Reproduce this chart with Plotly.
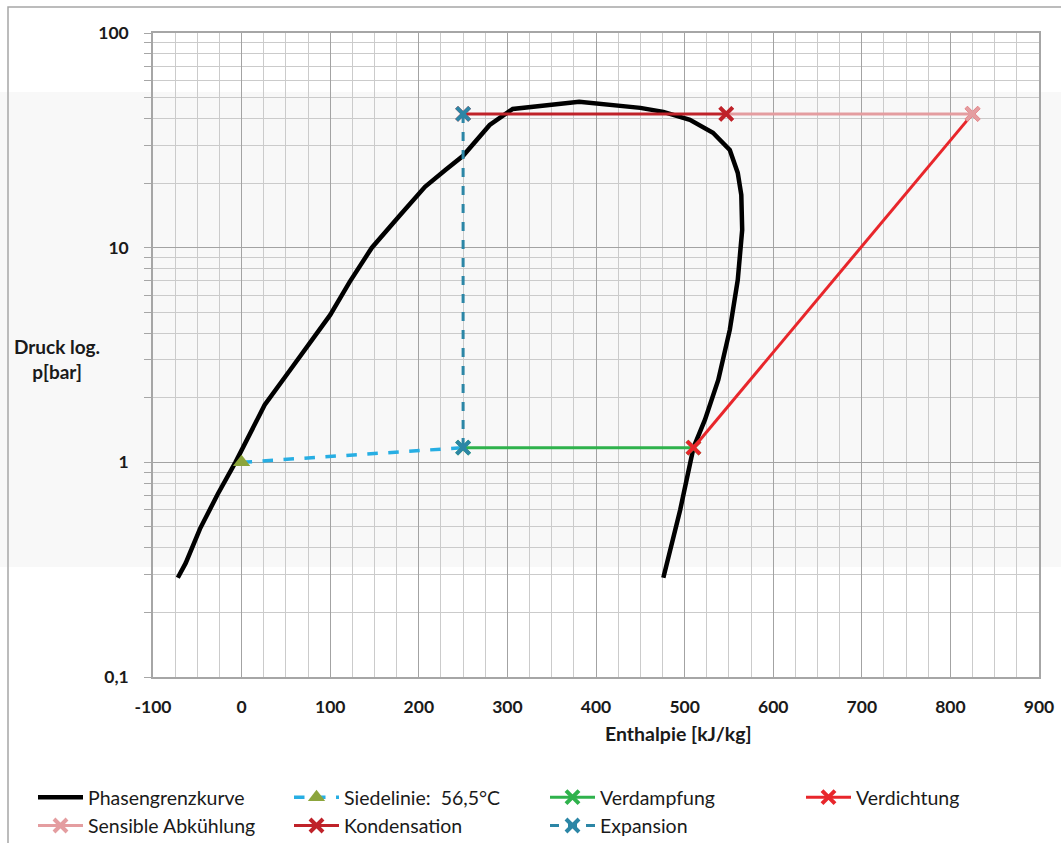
import plotly.graph_objects as go

# ---------------- data ----------------
phase_h = [-72, -63, -47, -27, -7, 10, 26, 55, 100, 122, 147, 179, 207, 230, 250, 280, 306,
           381, 450, 476, 506, 532, 551, 560, 564, 565, 560, 551, 538, 523, 510, 495, 484, 476]
phase_p = [0.29, 0.34, 0.49, 0.71, 1.0, 1.39, 1.85, 2.7, 4.86, 6.93, 10, 14.2, 19.2, 23, 26.8, 37.3, 44.3,
           47.8, 44.8, 42.9, 39.4, 34.3, 28.5, 22.3, 17.6, 12.1, 7.08, 4.14, 2.42, 1.58, 1.17, 0.6, 0.39, 0.29]

siede_h = [0, 250]
siede_p = [1.0, 1.17]

verdampf_h = [250, 510]
verdampf_p = [1.17, 1.17]

verdicht_h = [510, 825]
verdicht_p = [1.17, 42]

sensibel_h = [825, 547]
sensibel_p = [42, 42]

kondens_h = [547, 250]
kondens_p = [42, 42]

expans_h = [250, 250]
expans_p = [42, 1.17]

x_ticks = [-100, 0, 100, 200, 300, 400, 500, 600, 700, 800, 900]
x_ticktext = ["-100", "0", "100", "200", "300", "400", "500", "600", "700", "800", "900"]
y_ticks = [0.1, 1, 10, 100]
y_ticktext = ["0,1", "1", "10", "100"]
y_minor = [k * 10 ** d for d in (-1, 0, 1) for k in range(2, 10)]

FONT = "Lato"
TXT = "#1a1a1a"

fig = go.Figure()

def xmark(color):
    return dict(symbol="x-thin", size=13, color=color, line=dict(color=color, width=4))

fig.add_trace(go.Scatter(x=phase_h, y=phase_p, mode="lines", name="Phasengrenzkurve",
                         line=dict(color="#000000", width=4.5)))
fig.add_trace(go.Scatter(x=siede_h, y=siede_p, mode="lines+markers", name="Siedelinie:  56,5°C",
                         line=dict(color="#27aee3", width=3.5, dash="dash"),
                         marker=dict(symbol=["triangle-up", "line-ns"], size=15, color="#8ca53c",
                                     line=dict(width=0))))
fig.add_trace(go.Scatter(x=verdampf_h, y=verdampf_p, mode="lines+markers", name="Verdampfung",
                         line=dict(color="#2fb24c", width=3), marker=xmark("#2fb24c")))
fig.add_trace(go.Scatter(x=verdicht_h, y=verdicht_p, mode="lines+markers", name="Verdichtung",
                         line=dict(color="#e8262b", width=3), marker=xmark("#e8262b")))
fig.add_trace(go.Scatter(x=sensibel_h, y=sensibel_p, mode="lines+markers", name="Sensible Abkühlung",
                         line=dict(color="#e49da0", width=3), marker=xmark("#e49da0")))
fig.add_trace(go.Scatter(x=kondens_h, y=kondens_p, mode="lines+markers", name="Kondensation",
                         line=dict(color="#bf2229", width=3), marker=xmark("#bf2229")))
fig.add_trace(go.Scatter(x=expans_h, y=expans_p, mode="lines+markers", name="Expansion",
                         line=dict(color="#2c86a6", width=3, dash="dash"), marker=xmark("#2c86a6")))

L, R, T, B = 153, 1039, 33, 677
W, H = 1061, 843

def px(xp):
    return (xp - L) / (R - L)

def py(yp):
    return (B - yp) / (B - T)

fig.update_layout(
    width=W, height=H,
    margin=dict(l=L, r=W - R, t=T, b=H - B, autoexpand=False),
    paper_bgcolor="white",
    plot_bgcolor="rgba(0,0,0,0)",
    font=dict(family=FONT, color=TXT, size=17),
    showlegend=True,
    legend=dict(orientation="h", x=px(33), y=py(778), xanchor="left", yanchor="top",
                entrywidth=196, entrywidthmode="pixels", font=dict(size=19.5, family=FONT, color=TXT),
                tracegroupgap=0, itemwidth=45, bgcolor="rgba(0,0,0,0)"),
    xaxis=dict(range=[-100, 900], tickvals=x_ticks, ticktext=x_ticktext, ticks="", showgrid=True,
               gridcolor="#a3a3a3", gridwidth=1,
               minor=dict(dtick=25, tick0=0, showgrid=True, gridcolor="#cbcbcb", gridwidth=1, ticks=""),
               showline=True, linecolor="#a6a6a6", linewidth=1.5, mirror=True, zeroline=False,
               tickfont=dict(size=17.5, family=FONT, color=TXT, weight="bold"),
               ticklabelstandoff=13),
    yaxis=dict(type="log", range=[-1, 2], tickvals=y_ticks, ticktext=y_ticktext,
               ticks="outside", ticklen=7, tickcolor="#a6a6a6", showgrid=True,
               gridcolor="#a3a3a3", gridwidth=1,
               minor=dict(tickvals=y_minor, showgrid=True, gridcolor="#cbcbcb", gridwidth=1,
                          ticks="outside", ticklen=7, tickcolor="#a6a6a6"),
               showline=True, linecolor="#a6a6a6", linewidth=1.5, mirror=True, zeroline=False,
               tickfont=dict(size=17.5, family=FONT, color=TXT, weight="bold"),
               ticklabelstandoff=12),
    shapes=[
        dict(type="rect", xref="paper", yref="paper", x0=px(0), x1=px(W), y0=py(567), y1=py(92),
             fillcolor="#f8f8f8", line=dict(width=0), layer="below"),
        dict(type="rect", xref="paper", yref="paper", x0=px(8), x1=px(W + 5), y0=py(H + 5), y1=py(7),
             fillcolor="rgba(0,0,0,0)", line=dict(color="#a6a6a6", width=1.5), layer="below"),
    ],
    annotations=[
        dict(text="<b>Druck log.<br>p[bar]</b>", xref="paper", yref="paper", x=px(57), y=py(359),
             xanchor="center", yanchor="middle", showarrow=False, align="center",
             font=dict(size=19, family=FONT, color=TXT)),
        dict(text="<b>Enthalpie [kJ/kg]</b>", xref="paper", yref="paper", x=px(678), y=py(733),
             xanchor="center", yanchor="middle", showarrow=False,
             font=dict(size=19.5, family=FONT, color=TXT)),
    ],
)

fig.write_html("out.html")
